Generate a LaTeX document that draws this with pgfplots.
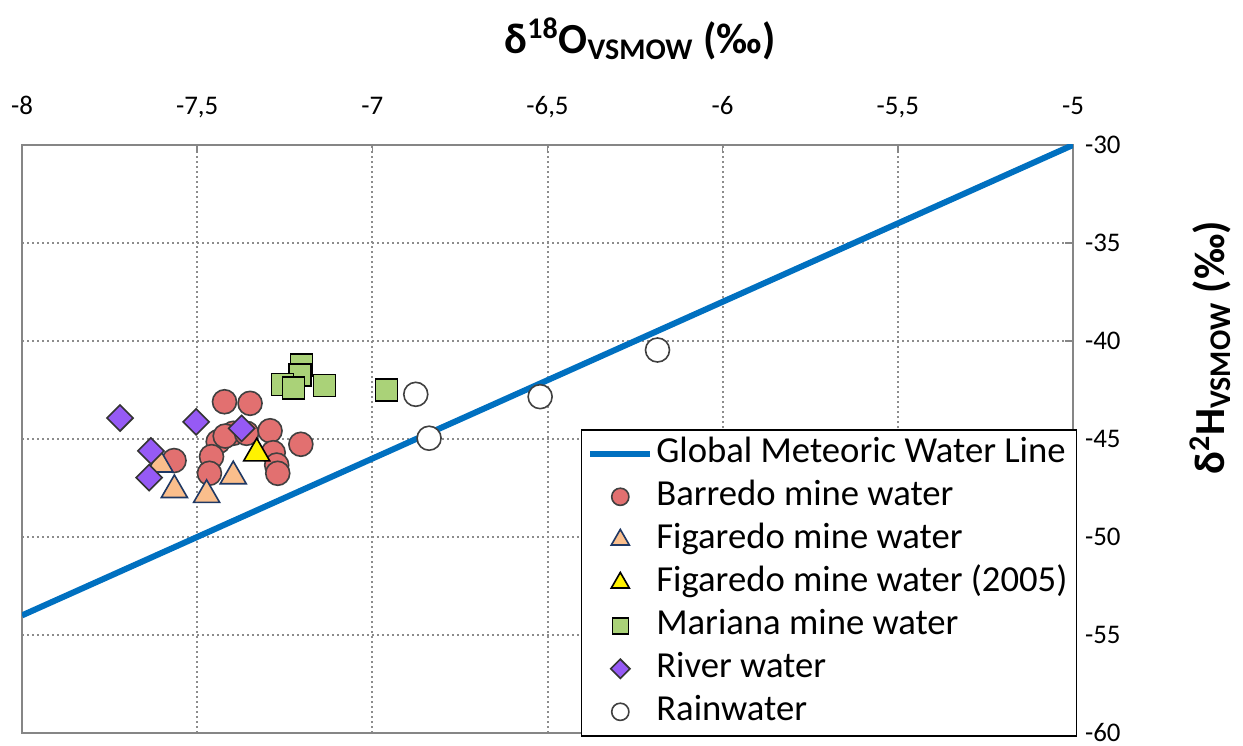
\documentclass[border=0pt]{standalone}
\usepackage{fontspec}
\setmainfont{Carlito}
\usepackage{pgfplots}
\pgfplotsset{compat=1.18}
\definecolor{gmwl}{RGB}{0,112,192}
\definecolor{barfill}{RGB}{226,112,112}
\definecolor{figfill}{RGB}{250,190,140}
\definecolor{figedge}{RGB}{31,56,100}
\definecolor{marfill}{RGB}{170,210,120}
\definecolor{rivfill}{RGB}{150,90,245}
\definecolor{framegray}{RGB}{134,134,134}
\definecolor{gridgray}{RGB}{140,140,140}
\begin{document}
\begin{tikzpicture}
\useasboundingbox (-11bp,-6.5bp) rectangle (610.5bp,366.5bp);
\begin{axis}[
  at={(0,0)}, anchor=south west,
  scale only axis, width=525.5bp, height=294bp,
  xmin=-8, xmax=-5, ymin=-60, ymax=-30,
  xtick={-8,-7.5,-7,-6.5,-6,-5.5,-5},
  xticklabels={-8,{-7,5},-7,{-6,5},-6,{-5,5},-5},
  ytick={-60,-55,-50,-45,-40,-35,-30},
  yticklabels={-60,-55,-50,-45,-40,-35,-30},
  xticklabel pos=upper, yticklabel pos=right,
  xtick pos=upper, ytick pos=right,
  tick align=inside, major tick length=4bp,
  tick style={framegray, line width=0.8bp},
  axis line style={framegray, line width=0.9bp},
  grid=major,
  major grid style={gridgray, line width=1bp, dash pattern=on 1.2bp off 1.3bp},
  ticklabel style={font=\fontsize{13.5}{16}\selectfont},
  xticklabel style={anchor=base, yshift=15bp},
  yticklabel style={anchor=west, xshift=2.5bp},
  clip mode=individual,
  legend cell align=left,
  legend image code/.code={\draw[mark repeat=2,mark phase=2,#1] plot coordinates {(0bp,0bp) (15bp,0bp) (30bp,0bp)};},
  legend style={at={(rel axis cs:1.004,0.517)}, anchor=north east,
    draw=black, line width=0.8bp, fill=white,
    font=\fontsize{18.4}{21}\selectfont,
    nodes={inner sep=1.5bp, text height=13bp, text depth=4bp},
    row sep=1.5bp, inner xsep=3bp, inner ysep=2bp},
]
\addplot[gmwl, line width=3bp] coordinates {(-8,-54) (-5,-30)};
\addlegendentry{Global Meteoric Water Line}

\addplot[only marks, mark=*, mark size=6bp, mark options={fill=barfill, draw=black!75, line width=0.8bp},
  legend image post style={mark size=4.3bp}] coordinates {
(-7.566,-46.10) (-7.422,-43.10) (-7.349,-43.18) (-7.440,-45.14) (-7.459,-45.90)
(-7.465,-46.75) (-7.397,-44.71) (-7.42,-44.85) (-7.359,-44.71) (-7.292,-44.58)
(-7.283,-45.70) (-7.273,-46.33) (-7.270,-46.75) (-7.204,-45.27)
};
\addlegendentry{Barredo mine water}

\addplot[only marks, mark=triangle*, mark size=7.5bp, mark options={fill=figfill, draw=figedge, line width=0.8bp},
  legend image post style={mark size=5.2bp}] coordinates {
(-7.606,-46.3) (-7.565,-47.6) (-7.473,-47.85) (-7.397,-46.9)
};
\addlegendentry{Figaredo mine water}

\addplot[only marks, mark=triangle*, mark size=7.5bp, mark options={fill=yellow, draw=black, line width=0.8bp},
  legend image post style={mark size=5.2bp}] coordinates {
(-7.33,-45.73)
};
\addlegendentry{Figaredo mine water (2005)}

\addplot[only marks, mark=square*, mark size=5.5bp, mark options={fill=marfill, draw=black, line width=0.8bp},
  legend image post style={mark size=4bp}] coordinates {
(-7.202,-41.22) (-7.206,-41.73) (-7.256,-42.21) (-7.225,-42.41) (-7.137,-42.28) (-6.959,-42.50)
};
\addlegendentry{Mariana mine water}

\addplot[only marks, mark=square*, mark size=4.6bp, mark options={rotate=45, fill=rivfill, draw=black!80, line width=0.8bp},
  legend image post style={mark size=3.4bp}] coordinates {
(-7.720,-43.93) (-7.503,-44.13) (-7.632,-45.61) (-7.637,-46.97) (-7.373,-44.46)
};
\addlegendentry{River water}

\addplot[only marks, mark=*, mark size=6bp, mark options={fill=white, draw=black!75, line width=0.8bp},
  legend image post style={mark size=4.3bp}] coordinates {
(-6.876,-42.72) (-6.521,-42.84) (-6.838,-44.96) (-6.186,-40.46)
};
\addlegendentry{Rainwater}

\node[font=\fontsize{21.5}{25}\selectfont\bfseries, yshift=53bp] at (rel axis cs:0.588,1)
  {δ\textsuperscript{18}O\textsubscript{VSMOW} (‰)};
\node[font=\fontsize{21.5}{25}\selectfont\bfseries, xshift=68.5bp, rotate=90] at (rel axis cs:1,0.655)
  {δ\textsuperscript{2}H\textsubscript{VSMOW} (‰)};
\end{axis}
\end{tikzpicture}
\end{document}
